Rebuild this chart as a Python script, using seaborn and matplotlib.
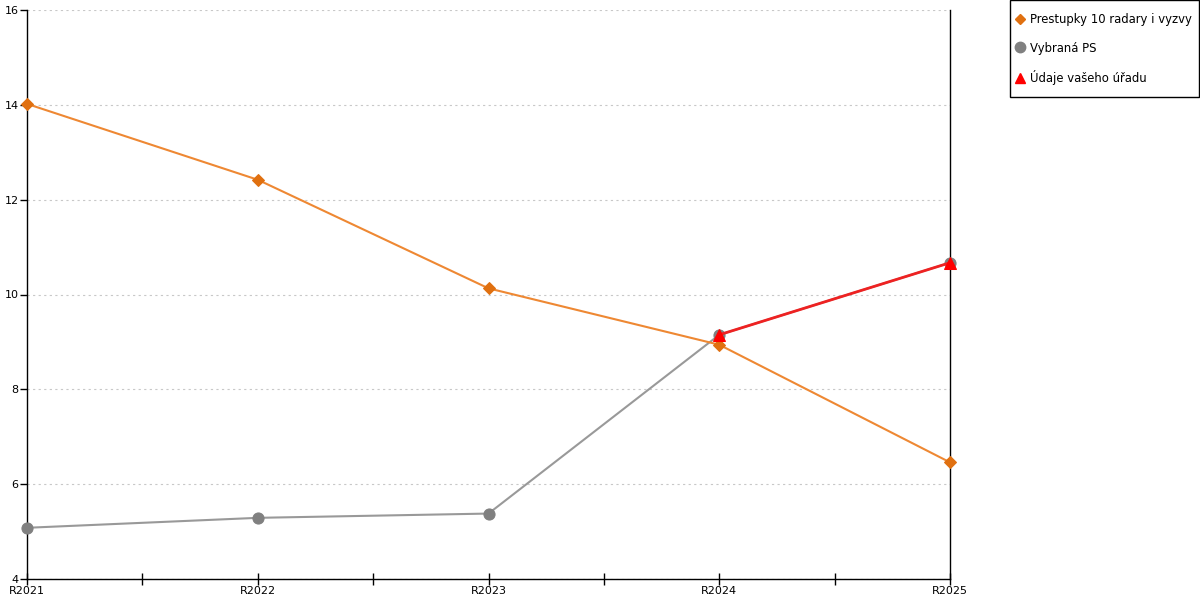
import matplotlib
matplotlib.use("Agg")
import matplotlib.pyplot as plt
import seaborn as sns
import pandas as pd
from matplotlib.lines import Line2D
from matplotlib.patches import Rectangle
from matplotlib.ticker import MultipleLocator

categories = ["R2021", "R2022", "R2023", "R2024", "R2025"]
prestupky = [14.02, 12.42, 10.13, 8.94, 6.46]
vybrana_ps = [5.08, 5.29, 5.38, 9.15, 10.67]
udaje_cats = ["R2024", "R2025"]
udaje = [9.15, 10.67]

sns.set_style("white")
plt.rcParams['font.family'] = ['DejaVu Sans']
plt.rcParams['text.color'] = 'black'
plt.rcParams['xtick.color'] = 'black'
plt.rcParams['ytick.color'] = 'black'

fig = plt.figure(figsize=(12, 6), dpi=100)
ax = fig.add_axes([27/1200, 21/600, 923/1200, 569/600])

pos = {c: i for i, c in enumerate(categories)}
df1 = pd.DataFrame({"x": [pos[c] for c in categories], "y": prestupky})
df2 = pd.DataFrame({"x": [pos[c] for c in categories], "y": vybrana_ps})
df3 = pd.DataFrame({"x": [pos[c] for c in udaje_cats], "y": udaje})

sns.lineplot(data=df2, x="x", y="y", ax=ax, color="#999999", linewidth=1.5,
             marker="o", markersize=8, markerfacecolor="#808080", markeredgecolor="#808080", zorder=3)
sns.lineplot(data=df1, x="x", y="y", ax=ax, color="#EE8833", linewidth=1.5,
             marker="D", markersize=6, markerfacecolor="#E07010", markeredgecolor="#E07010", zorder=4)
sns.lineplot(data=df3, x="x", y="y", ax=ax, color="#EE2222", linewidth=2,
             marker="^", markersize=9, markerfacecolor="#FF0000", markeredgecolor="#FF0000", zorder=5)
for ln in ax.lines:
    ln.set_clip_on(False)

ax.set_xlim(0, len(categories) - 1)
ax.set_ylim(4, 16)
ax.set_xticks(range(len(categories)))
ax.set_xticklabels(categories)
ax.xaxis.set_minor_locator(MultipleLocator(0.5))
ax.yaxis.set_major_locator(MultipleLocator(2))
ax.set_xlabel("")
ax.set_ylabel("")
ax.grid(axis="y", color="#C8C8C8", linestyle=(0, (2, 3)), linewidth=0.8)
ax.set_axisbelow(True)

for s in ["left", "bottom", "right"]:
    ax.spines[s].set_visible(True)
    ax.spines[s].set_color("black")
    ax.spines[s].set_linewidth(1)
ax.spines["top"].set_visible(False)

ax.tick_params(axis="x", which="both", direction="inout", length=8, width=1,
               labelsize=8, pad=1, bottom=True)
ax.tick_params(axis="y", which="major", direction="out", length=5, width=1,
               labelsize=8, pad=1, left=True)

handles = [
    Line2D([], [], linestyle="none", marker="D", markersize=5.5, color="#E07010"),
    Line2D([], [], linestyle="none", marker="o", markersize=7.5, color="#808080"),
    Line2D([], [], linestyle="none", marker="^", markersize=7.5, color="#FF0000"),
]
labels = ["Prestupky 10 radary i vyzvy", "Vybraná PS", "Údaje vašeho úřadu"]
leg = fig.legend(handles, labels, loc="upper left",
                 bbox_to_anchor=(1015/1200, 1 - 13/600),
                 frameon=False, fontsize=8.4,
                 handlelength=0.85, handletextpad=0.4, labelspacing=1.33,
                 borderpad=0, borderaxespad=0)
for t in leg.get_texts():
    t.set_color("black")
fig.add_artist(Rectangle((1009.5/1200, 1 - 97/600), 189.5/1200, 96.5/600,
                         transform=fig.transFigure, fill=False,
                         edgecolor="black", linewidth=1))

fig.savefig("out.png", dpi=100)
